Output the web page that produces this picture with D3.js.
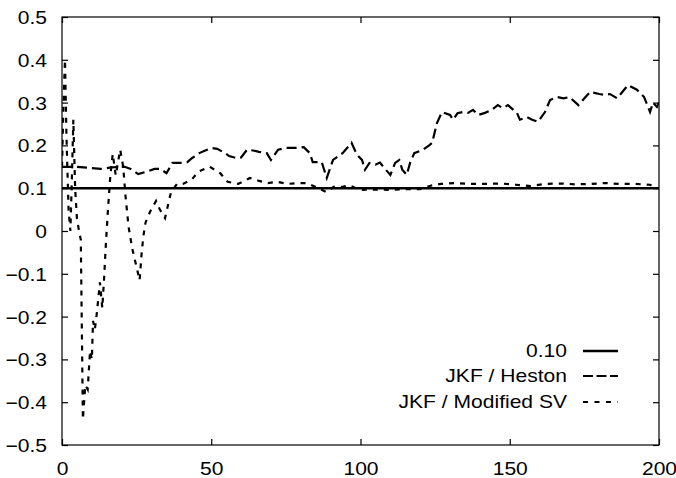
<!DOCTYPE html>
<html><head><meta charset="utf-8">
<script src="https://cdn.jsdelivr.net/npm/d3@7"></script>
<style>body{margin:0;background:#fff}svg{display:block}text{font-family:"Liberation Sans",Arial,Helvetica,sans-serif;fill:#000}</style>
</head><body><svg id="c" width="676" height="478"></svg>
<script>
const refLevel = 0.10;
const hestonX = [0,5,10,13,16,19,21,23,25.5,28,31,33,35,37,39.5,42,43.5,46,48,50,52,54.6,56,58.6,60,62,64,66,68.6,70,72.4,75,77,79,81,83,84,87,88.7,90.8,94,97,98.8,100.5,101.5,103,105,106.5,108,110,111.6,113,114,115.5,116.6,118,121,123,124,125.6,127.3,130,131,132.5,134.3,136,137.7,139.4,141.7,144,146,147.7,149.4,152.4,153.4,155.8,157.5,159.5,161.8,163.5,166,168,170,173,175,177,180,182,183.6,186,189.6,192.6,195,197,198,199.3,200];
const hestonY = [0.15,0.15,0.147,0.145,0.148,0.15,0.15,0.145,0.133,0.138,0.145,0.145,0.135,0.159,0.159,0.161,0.17,0.182,0.188,0.194,0.192,0.182,0.175,0.17,0.172,0.19,0.188,0.185,0.182,0.166,0.19,0.194,0.194,0.194,0.196,0.182,0.161,0.161,0.124,0.166,0.182,0.206,0.178,0.166,0.143,0.159,0.155,0.16,0.147,0.131,0.159,0.166,0.143,0.131,0.159,0.182,0.19,0.2,0.206,0.252,0.278,0.271,0.26,0.275,0.278,0.276,0.283,0.271,0.276,0.283,0.294,0.287,0.294,0.276,0.26,0.266,0.26,0.255,0.278,0.306,0.313,0.31,0.313,0.294,0.31,0.325,0.32,0.318,0.32,0.31,0.341,0.33,0.313,0.278,0.3,0.29,0.3];
const svX = [0,0.5,1,1.5,2.2,2.8,3.3,3.8,4.4,5,5.7,6.3,7,7.8,8.6,9.4,10,10.4,11,11.7,12.7,13.5,14.1,14.7,15.4,16.2,17,18,19.5,20.5,21.3,22.3,23.5,24.5,25.5,26,26.7,27.3,28,29.5,31.5,32.8,34.5,35.5,36.5,38.5,40.5,43.5,45.5,49.5,53,55.5,59,63,66,69,72,75.5,79,82,85,88.5,91,94,96,100,105,110,115,120,124,127,132,137,142,147,152,157,162,167,172,177,182,187,192,197,199];
const svY = [0.15,0.3,0.4,0.22,0.05,0.0,0.12,0.26,0.1,0.03,0.0,-0.02,-0.44,-0.36,-0.37,-0.28,-0.3,-0.21,-0.23,-0.19,-0.12,-0.18,-0.11,-0.03,0.05,0.13,0.18,0.13,0.19,0.15,0.08,0.01,-0.04,-0.07,-0.1,-0.115,-0.05,-0.01,0.02,0.045,0.07,0.05,0.03,0.06,0.09,0.11,0.11,0.12,0.138,0.15,0.135,0.115,0.11,0.124,0.117,0.112,0.115,0.11,0.112,0.112,0.103,0.091,0.103,0.103,0.107,0.096,0.097,0.096,0.098,0.098,0.107,0.11,0.112,0.11,0.11,0.111,0.108,0.105,0.11,0.111,0.109,0.11,0.112,0.11,0.11,0.108,0.102];
const xTicks = [0,50,100,150,200];
const yTicks = [-0.5,-0.4,-0.3,-0.2,-0.1,0,0.1,0.2,0.3,0.4,0.5];
const legendLabels = ["0.10","JKF / Heston","JKF / Modified SV"];

const svg = d3.select("#c");
const L=62,R=659,T=17,B=445;
const FS=18, SX=1.17;
const x = d3.scaleLinear().domain([0,200]).range([L,R]);
const y = d3.scaleLinear().domain([-0.5,0.5]).range([B,T]);
const fmt = v => v===0 ? "0" : (v<0 ? "\u2212"+Math.abs(v) : ""+v);

svg.append("rect").attr("x",L).attr("y",T).attr("width",R-L).attr("height",B-T)
  .attr("fill","none").attr("stroke","#000").attr("stroke-width",1.2);

const tl = 6;
const gl = svg.append("g").attr("transform",`translate(${L},0)`)
  .call(d3.axisLeft(y).tickValues(yTicks).tickSizeInner(-tl).tickSizeOuter(0).tickFormat(fmt));
const gr = svg.append("g").attr("transform",`translate(${R},0)`)
  .call(d3.axisRight(y).tickValues(yTicks).tickSizeInner(-tl).tickSizeOuter(0).tickFormat(""));
const gb = svg.append("g").attr("transform",`translate(0,${B})`)
  .call(d3.axisBottom(x).tickValues(xTicks).tickSizeInner(-tl).tickSizeOuter(0).tickFormat(d=>d));
const gt = svg.append("g").attr("transform",`translate(0,${T})`)
  .call(d3.axisTop(x).tickValues(xTicks).tickSizeInner(-tl).tickSizeOuter(0).tickFormat(""));
[gl,gr,gb,gt].forEach(g=>{g.select(".domain").remove();g.selectAll("line").attr("stroke","#000").attr("stroke-width",1.2);g.selectAll("text").attr("font-size",FS).attr("fill","#000").attr("font-family","Liberation Sans, Arial, sans-serif");});
gl.selectAll(".tick text").attr("x",0).attr("dy","0.36em").attr("transform",`translate(-15,0) scale(${SX},1)`);
gb.selectAll(".tick text").attr("y",0).attr("dy","0").attr("transform",`translate(0,475) scale(${SX},1)`).attr("transform",`translate(0,${475-B}) scale(${SX},1)`);

const line = d3.line().x(d=>x(d[0])).y(d=>y(d[1]));
svg.append("clipPath").attr("id","cp").append("rect").attr("x",L).attr("y",T).attr("width",R-L).attr("height",B-T);
const plot = svg.append("g").attr("clip-path","url(#cp)");
plot.append("path").datum([[0,refLevel],[200,refLevel]]).attr("d",line).attr("fill","none").attr("stroke","#000").attr("stroke-width",2.5);
plot.append("path").datum(hestonX.map((v,i)=>[v,hestonY[i]])).attr("d",line).attr("fill","none").attr("stroke","#000").attr("stroke-width",2.2).attr("stroke-dasharray","10,5");
plot.append("path").datum(svX.map((v,i)=>[v,svY[i]])).attr("d",line).attr("fill","none").attr("stroke","#000").attr("stroke-width",2.2).attr("stroke-dasharray","5,6");

const rows=[351,376,402], dashes=[null,"10,3.5","5,6.5"], widths=[2.5,2.2,2.2];
legendLabels.forEach((t,i)=>{
  svg.append("text").attr("x",0).attr("y",0).attr("dy","0.36em").attr("text-anchor","end").attr("font-size",FS)
    .attr("transform",`translate(567,${rows[i]}) scale(${SX},1)`).text(t);
  const l=svg.append("line").attr("x1",583).attr("x2",618).attr("y1",rows[i]).attr("y2",rows[i]).attr("stroke","#000").attr("stroke-width",widths[i]);
  if(dashes[i]) l.attr("stroke-dasharray",dashes[i]);
});
</script></body></html>
